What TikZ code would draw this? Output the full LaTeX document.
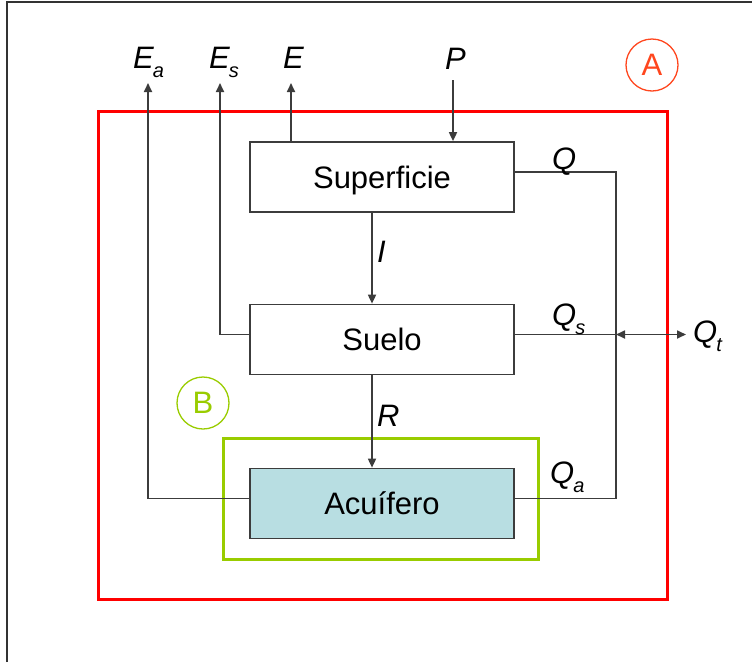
\documentclass[tikz,border=0pt]{standalone}
\usepackage{fontspec}
\setmainfont{Liberation Sans}
\usetikzlibrary{arrows.meta}
\definecolor{lineg}{RGB}{60,60,60}
\definecolor{aqf}{RGB}{184,222,226}
\definecolor{grn}{RGB}{153,204,0}
\definecolor{orr}{RGB}{255,70,30}
\newcommand{\subx}[1]{\kern-1pt\raisebox{-9pt}{\fontsize{20}{20}\selectfont #1}}
\begin{document}
\begin{tikzpicture}[x=1pt,y=-1pt,
  box/.style={draw=lineg,line width=1.7pt,minimum width=264pt,minimum height=70pt,inner sep=0pt,
    text height=22pt,text depth=0pt,font=\fontsize{31}{31}\selectfont},
  flow/.style={draw=lineg,line width=1.7pt},
  arr/.style={flow,-{Triangle[length=9pt,width=8pt]}},
  lbl/.style={inner sep=0pt,anchor=base west,font=\fontsize{31}{31}\selectfont\itshape},
  tag/.style={circle,minimum size=52pt,inner sep=0pt,line width=1.3pt,font=\fontsize{31}{31}\selectfont}]
\useasboundingbox (0,0) rectangle (752,662);
\draw[line width=1.5pt,black!80] (7,662) -- (7,2) -- (752,2);
% system boundaries
\draw[red,line width=3pt] (98,111) rectangle (667,599);
\draw[grn,line width=3pt] (223,438) rectangle (538,559);
% boxes
\node[box] (sup) at (382,177) {Superficie};
\node[box] (sue) at (382,339.5) {Suelo};
\node[box,fill=aqf] (acu) at (382,503.5) {Acuífero};
% free ends
\coordinate (ea) at (148,83);
\coordinate (es) at (220,83);
\coordinate (e) at (291,83);
\coordinate (p) at (453,80);
\coordinate (J) at ([yshift=5pt]sue.east -| 616,0);
\coordinate (qt) at ([yshift=5pt]sue.east -| 686,0);
% connectors
\draw[arr] ([yshift=5pt]acu.west) -| (ea);
\draw[arr] ([yshift=5pt]sue.west) -| (es);
\draw[arr] (sup.north -| e) -- (e);
\draw[arr] (p) -- (p |- sup.north);
\draw[arr] ([xshift=-10pt]sup.south) -- ([xshift=-10pt]sue.north);
\draw[arr] ([xshift=-10pt]sue.south) -- ([xshift=-10pt]acu.north);
\draw[flow] ([yshift=5pt]sup.east) -| (J) |- ([yshift=5pt]acu.east);
\draw[flow] ([yshift=5pt]sue.east) -- (J);
\draw[flow,{Triangle[length=9pt,width=8pt]}-{Triangle[length=9pt,width=8pt]}] (J) -- (qt);
% labels
\node[lbl] (lEa) at (133,68) {E\subx{a}};
\node[lbl] (lEs) at (209,68) {E\subx{s}};
\node[lbl] (lE) at (283,68) {E};
\node[lbl] (lP) at (445,69) {P};
\node[lbl] (lI) at (377,262) {I};
\node[lbl] (lR) at (377,426) {R};
\node[lbl] (lQ) at (552,169) {Q};
\node[lbl] (lQs) at (552,325) {Q\subx{s}};
\node[lbl] (lQa) at (550,483) {Q\subx{a}};
\node[lbl] (lQt) at (693,342) {Q\subx{t}};
% tags
\node[tag,draw=orr,text=orr] (tA) at (652,65) {A};
\node[tag,draw=grn,text=grn] (tB) at (203,403) {B};
\end{tikzpicture}
\end{document}
